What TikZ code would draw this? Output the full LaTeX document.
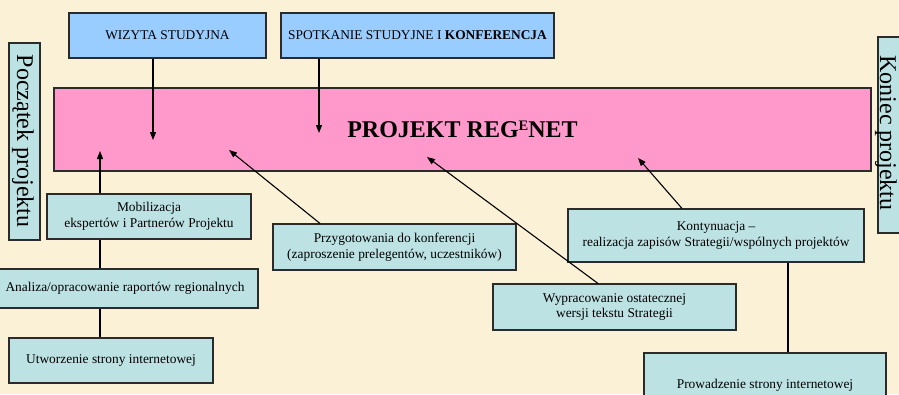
\documentclass[tikz,border=0pt]{standalone}
\usepackage{fontspec}
\setmainfont{Liberation Serif}
\usetikzlibrary{arrows.meta}
\definecolor{parch}{HTML}{FBF1D6}
\definecolor{boxblue}{HTML}{99CCFF}
\definecolor{boxpink}{HTML}{FF99CC}
\definecolor{boxteal}{HTML}{BDE2E4}
\definecolor{edge}{HTML}{2B2B2B}
\tikzset{
  bx/.style={draw=edge, line width=1.1pt, inner sep=0pt, align=center,
    font=\fontsize{13.4}{15.8}\selectfont},
  bluebox/.style={bx, fill=boxblue},
  tealbox/.style={bx, fill=boxteal},
  pinkbox/.style={bx, fill=boxpink},
  sidebox/.style={bx, fill=boxteal},
  sidetext/.style={rotate=-90, inner sep=0pt, font=\fontsize{24}{24}\selectfont},
  arr/.style={line width=1.1pt, -{Triangle[length=8pt,width=6pt]}},
  ln/.style={line width=1.1pt}
}
\begin{document}
\begin{tikzpicture}[x=1pt,y=-1pt]
\useasboundingbox (0,0) rectangle (899,394);
\clip (0,0) rectangle (899,394);
\fill[parch] (0,0) rectangle (899,394);

% top boxes
\node[bluebox, minimum width=197pt, minimum height=45pt] (wiz) at (167.5,35.5) {WIZYTA STUDYJNA};
\node[bluebox, minimum width=273pt, minimum height=45pt] (spo) at (417.5,35.5) {SPOTKANIE STUDYJNE I \textbf{KONFERENCJA}};

% main box
\node[pinkbox, minimum width=817pt, minimum height=83pt, font=\fontsize{24}{24}\selectfont\bfseries] (proj) at (462.5,129.5)
  {PROJEKT REG\raisebox{7.5pt}{\fontsize{14.5}{14.5}\selectfont E}NET};

% side boxes
\node[sidebox, minimum width=31pt, minimum height=197pt] (pocz) at (24.5,141.5) {};
\node[sidetext] (poczt) at (23,141) {Początek projektu};
\node[sidebox, minimum width=26pt, minimum height=196pt] (kon) at (891,135) {};
\node[sidetext] (kont) at (886,133) {Koniec projektu};

% lower boxes
\node[tealbox, minimum width=204pt, minimum height=45pt] (mob) at (149,216.5) {Mobilizacja\\ekspertów i Partnerów Projektu};
\node[tealbox, minimum width=266pt, minimum height=39pt] (ana) at (125,288.5) {Analiza/opracowanie raportów regionalnych};
\node[tealbox, minimum width=204pt, minimum height=45pt] (utw) at (111,360.5) {Utworzenie strony internetowej};
\node[tealbox, minimum width=243pt, minimum height=46pt] (prz) at (394.5,247) {Przygotowania do konferencji\\(zaproszenie prelegentów, uczestników)};
\node[tealbox, minimum width=243pt, minimum height=46pt] (wyp) at (614.5,307) {Wypracowanie ostatecznej\\wersji tekstu Strategii};
\node[tealbox, minimum width=296pt, minimum height=53pt] (kty) at (716,235.5) {Kontynuacja --\\realizacja zapisów Strategii/wspólnych projektów};
\node[tealbox, minimum width=242pt, minimum height=64pt] (pro) at (765,385) {Prowadzenie strony internetowej};

% arrow tips inside main box
\coordinate (tw) at (153,140);
\coordinate (ts) at (319,133);
\coordinate (tm) at (100,151);
\coordinate (tp) at (229,150);
\coordinate (tr) at (427,157);
\coordinate (tk) at (638,158);
\coordinate (xa) at (100,0);
\coordinate (xk) at (788,0);

\draw[arr] (wiz.south -| tw) -- (tw);
\draw[arr] (spo.south -| ts) -- (ts);
\draw[arr] (mob.north -| tm) -- (tm);
\draw[arr] ([xshift=-74.5pt]prz.north) -- (tp);
\draw[arr] ([xshift=-16.5pt]wyp.north) -- (tr);
\draw[arr] ([xshift=-34pt]kty.north) -- (tk);

\draw[ln] (mob.south -| xa) -- (ana.north -| xa);
\draw[ln] (ana.south -| xa) -- (utw.north -| xa);
\draw[ln] (kty.south -| xk) -- (pro.north -| xk);
\end{tikzpicture}
\end{document}
